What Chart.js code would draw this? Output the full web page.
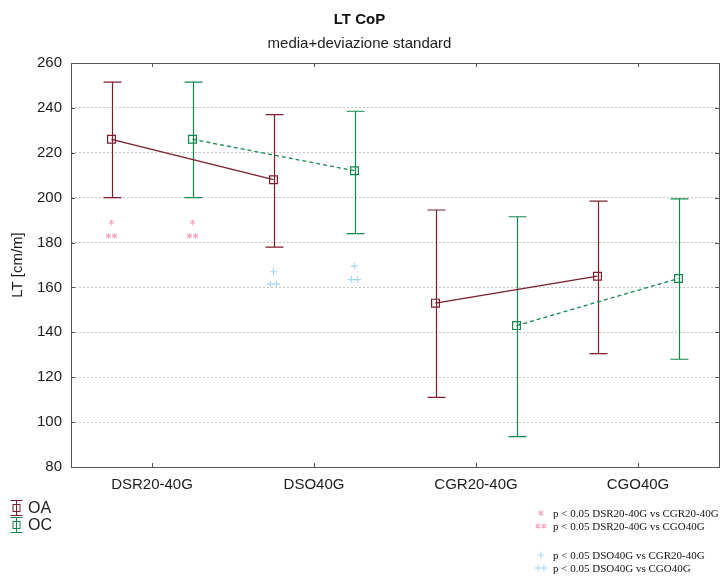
<!DOCTYPE html>
<html>
<head>
<meta charset="utf-8">
<script src="https://cdn.jsdelivr.net/npm/chart.js@4/dist/chart.umd.min.js"></script>
<style>
  html, body { margin: 0; padding: 0; background: #fff; overflow: hidden; }
  canvas { display: block; }
</style>
</head>
<body>
<canvas id="lt-cop" width="723" height="576"></canvas>
<script>
const categories = ['DSR20-40G', 'DSO40G', 'CGR20-40G', 'CGO40G']
const groups = ['OA', 'OC']

// media and media +/- deviazione standard
const oaMean = [226, 208, 153, 165]
const oaUpper = [251.5, 237, 194.5, 198.5]
const oaLower = [200, 178, 111, 130.5]
const ocMean = [226, 212, 143, 164]
const ocUpper = [251.5, 238.5, 191.5, 199.5]
const ocLower = [200, 184, 93.5, 128]

const yTicks = [80, 100, 120, 140, 160, 180, 200, 220, 240, 260]

// significance marks drawn next to the bars
const sigCategory = [0, 0, 0, 0, 1, 1, 1, 1]
const sigGroup = ['OA', 'OA', 'OC', 'OC', 'OA', 'OA', 'OC', 'OC']
const sigValue = [189, 183, 189, 183, 167, 161.5, 169.5, 163.5]
const sigMark = ['*', '**', '*', '**', '+', '++', '+', '++']

const noteMarks = ['*', '**', '+', '++']
const noteTexts = [
  'p < 0.05 DSR20-40G vs CGR20-40G',
  'p < 0.05 DSR20-40G vs CGO40G',
  'p < 0.05 DSO40G vs CGR20-40G',
  'p < 0.05 DSO40G vs CGO40G'
]

const colors = { OA: '#7a1e2c', OC: '#12874d' }
const markColors = { '*': '#f4a3bf', '+': '#a6d6f0' }
const groupOffset = { OA: -0.25, OC: 0.25 }
const fontFamily = '"Liberation Sans", Arial, sans-serif'
const textColor = '#1c1c1c'

function points(means, group) {
  return means.map((v, i) => ({ x: i + groupOffset[group], y: v }))
}

function drawMark(ctx, mark, x, y) {
  const n = mark.length
  ctx.save()
  ctx.strokeStyle = markColors[mark[0]]
  ctx.lineWidth = 1.1
  for (let k = 0; k < n; k++) {
    const cx = x + (k - (n - 1) / 2) * 6
    ctx.beginPath()
    if (mark[0] === '*') {
      for (let a = 0; a < 3; a++) {
        const ang = Math.PI / 2 + a * Math.PI / 3
        ctx.moveTo(cx - 2.8 * Math.cos(ang), y - 2.8 * Math.sin(ang))
        ctx.lineTo(cx + 2.8 * Math.cos(ang), y + 2.8 * Math.sin(ang))
      }
    } else {
      ctx.moveTo(cx - 3.5, y); ctx.lineTo(cx + 3.5, y)
      ctx.moveTo(cx, y - 3.5); ctx.lineTo(cx, y + 3.5)
    }
    ctx.stroke()
  }
  ctx.restore()
}

function drawErrorIcon(ctx, x, y, color) {
  ctx.save()
  ctx.strokeStyle = color
  ctx.lineWidth = 1
  ctx.beginPath()
  ctx.moveTo(x, y - 7); ctx.lineTo(x, y + 7)
  ctx.moveTo(x - 6, y - 7.5); ctx.lineTo(x + 6, y - 7.5)
  ctx.moveTo(x - 6, y + 7.5); ctx.lineTo(x + 6, y + 7.5)
  ctx.stroke()
  ctx.strokeRect(x - 3.5, y - 3.5, 7, 7)
  ctx.restore()
}

const errorBars = {
  id: 'errorBars',
  beforeDatasetsDraw(chart) {
    const ctx = chart.ctx
    const xs = chart.scales.x, ys = chart.scales.y
    const sets = [
      ['OA', oaUpper, oaLower],
      ['OC', ocUpper, ocLower]
    ]
    ctx.save()
    ctx.lineWidth = 1.2
    sets.forEach(([g, up, low]) => {
      ctx.strokeStyle = colors[g]
      up.forEach((u, i) => {
        const px = Math.round(xs.getPixelForValue(i + groupOffset[g])) + 0.5
        const pu = ys.getPixelForValue(u)
        const pl = ys.getPixelForValue(low[i])
        ctx.beginPath()
        ctx.moveTo(px, pu); ctx.lineTo(px, pl)
        ctx.moveTo(px - 9, pu); ctx.lineTo(px + 9, pu)
        ctx.moveTo(px - 9, pl); ctx.lineTo(px + 9, pl)
        ctx.stroke()
      })
    })
    ctx.restore()

    sigValue.forEach((v, i) => {
      const px = xs.getPixelForValue(sigCategory[i] + groupOffset[sigGroup[i]])
      drawMark(ctx, sigMark[i], px, ys.getPixelForValue(v))
    })
  },
  afterDraw(chart) {
    const ctx = chart.ctx
    const a = chart.chartArea
    const xs = chart.scales.x, ys = chart.scales.y
    ctx.save()
    ctx.strokeStyle = '#555'
    ctx.lineWidth = 1
    ctx.strokeRect(Math.round(a.left) + 0.5, Math.round(a.top) + 0.5,
      Math.round(a.right - a.left), Math.round(a.bottom - a.top))
    ctx.beginPath()
    yTicks.forEach(t => {
      const py = Math.round(ys.getPixelForValue(t)) + 0.5
      ctx.moveTo(a.left, py); ctx.lineTo(a.left + 4, py)
      ctx.moveTo(a.right, py); ctx.lineTo(a.right - 4, py)
    })
    categories.forEach((c, i) => {
      const px = Math.round(xs.getPixelForValue(i)) + 0.5
      ctx.moveTo(px, a.top); ctx.lineTo(px, a.top + 4)
      ctx.moveTo(px, a.bottom); ctx.lineTo(px, a.bottom - 4)
    })
    ctx.stroke()

    // group legend, bottom left
    ctx.font = '16px ' + fontFamily
    ctx.fillStyle = textColor
    ctx.textBaseline = 'middle'
    groups.forEach((g, i) => {
      const y = 508 + i * 17
      drawErrorIcon(ctx, 16.5, y, colors[g])
      ctx.fillText(g, 28, y + 1)
    })

    // significance notes, bottom right
    ctx.font = '11px "Liberation Serif", "Times New Roman", serif'
    noteTexts.forEach((t, i) => {
      const y = 513 + i * 13 + (i >= 2 ? 16 : 0)
      drawMark(ctx, noteMarks[i], 541, y)
      ctx.fillStyle = '#111'
      ctx.fillText(t, 553, y + 1)
    })
    ctx.restore()
  }
}

new Chart(document.getElementById('lt-cop').getContext('2d'), {
  type: 'line',
  data: {
    datasets: [
      {
        label: 'OA',
        data: points(oaMean, 'OA'),
        borderColor: colors.OA,
        borderWidth: 1.3,
        pointStyle: 'rect',
        pointRadius: 5.5,
        pointBorderWidth: 1.2,
        pointBackgroundColor: 'rgba(255,255,255,0)',
        pointBorderColor: colors.OA,
        segment: {
          borderColor: ctx => ctx.p0DataIndex === 1 ? 'rgba(0,0,0,0)' : colors.OA
        }
      },
      {
        label: 'OC',
        data: points(ocMean, 'OC'),
        borderColor: colors.OC,
        borderWidth: 1.3,
        borderDash: [4, 3],
        pointStyle: 'rect',
        pointRadius: 5.5,
        pointBorderWidth: 1.2,
        pointBackgroundColor: 'rgba(255,255,255,0)',
        pointBorderColor: colors.OC,
        segment: {
          borderColor: ctx => ctx.p0DataIndex === 1 ? 'rgba(0,0,0,0)' : colors.OC
        }
      }
    ]
  },
  options: {
    responsive: false,
    animation: false,
    layout: { autoPadding: false, padding: { top: 0, left: 0, right: 4, bottom: 69 } },
    scales: {
      x: {
        type: 'linear',
        min: -0.5,
        max: 3.5,
        afterBuildTicks(scale) {
          scale.ticks = categories.map((c, i) => ({ value: i }))
        },
        afterFit(scale) {
          scale.height = 40
          scale.paddingLeft = 0
          scale.paddingRight = 0
        },
        ticks: {
          callback: v => categories[v],
          color: textColor,
          padding: 9,
          font: { family: fontFamily, size: 15 }
        },
        grid: { display: false, drawTicks: false },
        border: { display: false }
      },
      y: {
        min: 80,
        max: 260,
        afterBuildTicks(scale) {
          scale.ticks = yTicks.map(v => ({ value: v }))
        },
        afterFit(scale) { scale.width = 71 },
        ticks: {
          color: textColor,
          padding: 9,
          font: { family: fontFamily, size: 15 }
        },
        grid: { color: '#c4c4c4', drawTicks: false },
        border: { display: false, dash: [2, 2] },
        title: {
          display: true,
          text: 'LT [cm/m]',
          color: textColor,
          padding: { top: 9, bottom: 0 },
          font: { family: fontFamily, size: 15 }
        }
      }
    },
    plugins: {
      legend: { display: false },
      tooltip: { enabled: false },
      title: {
        display: true,
        text: 'LT CoP',
        color: '#111',
        padding: { top: 11, bottom: 3 },
        font: { family: fontFamily, size: 15, weight: 'bold' }
      },
      subtitle: {
        display: true,
        text: 'media+deviazione standard',
        color: textColor,
        padding: { top: 3, bottom: 10 },
        font: { family: fontFamily, size: 15 }
      }
    }
  },
  plugins: [errorBars]
})
</script>
</body>
</html>
